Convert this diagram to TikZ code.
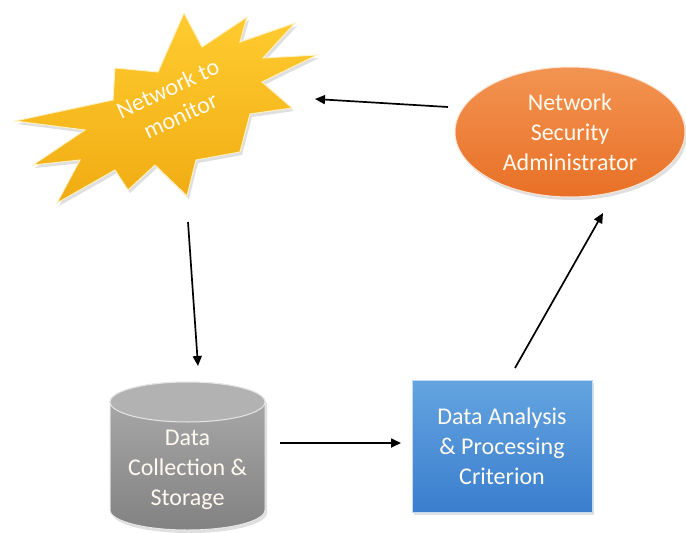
\documentclass[tikz,border=0pt]{standalone}
\usepackage{fontspec}
\setmainfont{Carlito}
\usetikzlibrary{arrows.meta,shapes.geometric,shadows}
\definecolor{txtc}{RGB}{255,250,240}
\definecolor{stara}{RGB}{255,204,48}
\definecolor{starb}{RGB}{240,172,18}
\definecolor{orga}{RGB}{243,148,82}
\definecolor{orgb}{RGB}{232,112,38}
\definecolor{blua}{RGB}{100,164,224}
\definecolor{blub}{RGB}{58,126,206}
\definecolor{graya}{RGB}{172,172,172}
\definecolor{grayb}{RGB}{130,130,130}
\definecolor{graycap}{RGB}{178,178,178}
\tikzset{
  lbl/.style={text=txtc, font=\fontsize{24}{30}\selectfont, align=center},
  conn/.style={draw=black, line width=1.7pt, -{Triangle[length=10pt,width=9pt]}},
  softshadow/.style={drop shadow={opacity=0.25, shadow xshift=2pt, shadow yshift=-3pt}},
}
\begin{document}
\begin{tikzpicture}[x=1pt,y=-1pt]
\useasboundingbox (0,0) rectangle (686,533);
% star
\path[softshadow, top color=stara, bottom color=starb, draw=white!70!stara, line width=1pt, line join=miter]
 (187,196) -- (196,160) -- (240,152) -- (250,114) -- (292,108) -- (262,82) -- (317,55) -- (263,58)
 -- (295,23) -- (240,42) -- (247,17) -- (202,47) -- (184,13) -- (158,72) -- (115,68) -- (113,100)
 -- (15,121) -- (85,130) -- (33,165) -- (80,160) -- (57,203) -- (115,170) -- (128,190) -- (155,165) -- cycle;
\node[lbl, rotate=25, inner sep=0pt] (net) at (174,102) {Network to\\monitor};
% ellipse
\node[ellipse, softshadow, lbl, minimum width=230pt, minimum height=130pt, inner sep=0pt,
      top color=orga, bottom color=orgb, draw=white!75!orga, line width=1pt] (nsa) at (570,132)
      {Network\\Security\\Administrator};
% box
\node[rectangle, softshadow, lbl, minimum width=180pt, minimum height=132pt, inner sep=0pt,
      top color=blua, bottom color=blub, draw=white!60!blua, line width=1pt] (dap) at (502,446)
      {Data Analysis\\\& Processing\\Criterion};
% cylinder
\path[softshadow, top color=graya, bottom color=grayb, draw=white!70!graya, line width=1pt]
  (110,402) -- (110,510) arc[start angle=180, end angle=0, x radius=77.5, y radius=20]
  -- (265,402) arc[start angle=0, end angle=-180, x radius=77.5, y radius=20] -- cycle;
\path[fill=graycap, draw=white!70!graya, line width=1pt] (187.5,402) ellipse[x radius=77.5, y radius=20];
\node[lbl, inner sep=0pt] (dcs) at (187.5,470) {Data\\Collection \&\\Storage};
% connector ends
\coordinate (e1a) at (448,107);
\coordinate (e1b) at (315,99);
\coordinate (e2a) at (188,222);
\coordinate (e2b) at (198,366);
\coordinate (e3a) at (280,443);
\coordinate (e3b) at (401,443);
\coordinate (e4a) at (515,368);
\coordinate (e4b) at (603,213);
\draw[conn] (e1a) -- (e1b);
\draw[conn] (e2a) -- (e2b);
\draw[conn] (e3a) -- (e3b);
\draw[conn] (e4a) -- (e4b);
\end{tikzpicture}
\end{document}
